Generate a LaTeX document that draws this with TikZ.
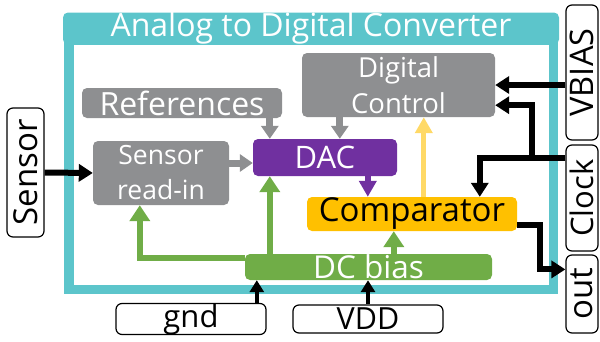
\documentclass[tikz,border=0pt]{standalone}
\usepackage{fontspec}
\setmainfont{Open Sans}
\usetikzlibrary{arrows.meta,calc}
\definecolor{tealc}{RGB}{92,197,203}
\definecolor{grayc}{RGB}{142,143,145}
\definecolor{purplec}{RGB}{112,48,160}
\definecolor{orangec}{RGB}{255,192,0}
\definecolor{greenc}{RGB}{112,173,71}
\definecolor{yellowc}{RGB}{255,217,102}
\newcommand\myfs[2]{\fontsize{#1}{#2}\selectfont}
\begin{document}
\begin{tikzpicture}[x=1pt,y=-1pt,
  blockbox/.style={rounded corners=5pt, inner sep=0pt, align=center, text=white},
  sidebox/.style={draw=black, line width=1.2pt, rounded corners=6pt, fill=white, inner sep=0pt, text=black},
  blk/.style={draw=black, line width=6pt, -{Triangle[length=14pt,width=17pt]}},
  blkthin/.style={draw=black, line width=4.5pt, -{Triangle[length=12pt,width=14pt]}},
  grayarr/.style={draw=grayc, line width=7pt, -{Triangle[length=13pt,width=17pt]}},
  greenarr/.style={draw=greenc, line width=6pt, -{Triangle[length=16pt,width=20pt]}},
  purplearr/.style={draw=purplec, line width=6pt, -{Triangle[length=16pt,width=17pt]}},
  yellowarr/.style={draw=yellowc, line width=5pt, -{Triangle[length=16pt,width=17pt]}}
]
\useasboundingbox (0,0) rectangle (600,341);

% frame
\draw[tealc, line width=9.5pt] (68.75,40) rectangle (553.25,289.25);
\node[fill=tealc, rounded corners=5pt, inner sep=0pt, minimum width=496pt, minimum height=31pt,
      text=white, font=\myfs{32}{34}] (title) at (311,28.5) {\raisebox{-2pt}{Analog to Digital Converter}};

% blocks
\node[blockbox, fill=grayc, minimum width=200pt, minimum height=30pt, font=\myfs{32}{34}] (refs) at (182,103) {References};
\node[blockbox, fill=grayc, minimum width=136pt, minimum height=64pt, font=\myfs{26.5}{35}] (readin) at (161,173) {Sensor\\read-in};
\node[blockbox, fill=purplec, minimum width=144pt, minimum height=37pt, font=\myfs{31}{33}] (dac) at (325,157.5) {DAC};
\node[blockbox, fill=grayc, minimum width=193pt, minimum height=64pt, font=\myfs{27.5}{36}] (dctrl) at (398.5,85) {Digital\\Control};
\node[blockbox, fill=orangec, text=black, minimum width=210pt, minimum height=34pt, font=\myfs{33}{35}] (comp) at (412,214) {Comparator};
\node[blockbox, fill=greenc, minimum width=247pt, minimum height=26pt, font=\myfs{31.5}{33}] (dcbias) at (368.5,267) {DC bias};

% side boxes
\node[sidebox, minimum width=150pt, minimum height=28pt, font=\myfs{31}{33}] (gnd) at (191,319) {gnd};
\node[sidebox, minimum width=150pt, minimum height=28pt, font=\myfs{30.5}{32}] (vdd) at (368,319) {VDD};
\node[sidebox, minimum width=37pt, minimum height=129pt, font=\myfs{33}{35}] (sensor) at (25.5,172.5) {\rotatebox{90}{Sensor}};
\node[sidebox, minimum width=32pt, minimum height=135pt, font=\myfs{32.5}{34}] (vbias) at (582,72.5) {\rotatebox{90}{VBIAS}};
\node[sidebox, minimum width=32pt, minimum height=106pt, font=\myfs{31}{33}] (clock) at (582,198) {\rotatebox{90}{Clock}};
\node[sidebox, minimum width=32pt, minimum height=78pt, font=\myfs{33}{35}] (out) at (582,294) {\rotatebox{90}{out}};

% helper coordinates
\coordinate (a1) at ($(dac.north west)+(17,0)$);
\coordinate (a1b) at ($(dac.south west)+(17,0)$);
\coordinate (a2) at ($(dac.west)+(0,5.5)$);
\coordinate (a3) at ($(dac.north west)+(87,0)$);
\coordinate (a4) at ($(comp.north west)+(61,0)$);
\coordinate (a5) at ($(comp.north west)+(117,0)$);
\coordinate (a6) at ($(dcbias.north west)+(0,4)$);
\coordinate (a7) at ($(readin.south west)+(47,0)$);
\coordinate (a8) at ($(comp.south west)+(87,0)$);
\coordinate (a9) at ($(dcbias.south west)+(12,0)$);
\coordinate (b1) at ($(clock.north west)+(0,14)$);
\coordinate (b2) at ($(dctrl.south east)+(0,-12)$);
\coordinate (b3) at ($(comp.north west)+(173,0)$);
\coordinate (b4) at ($(comp.east)+(0,11)$);
\coordinate (b5) at ($(out.north west)+(0,15)$);

% connectors
\draw[blk] (sensor.east) -- (readin.west);
\draw[grayarr] (refs.south -| a1) -- (a1);
\draw[grayarr] (readin.east |- a2) -- (a2);
\draw[grayarr] (dctrl.south -| a3) -- (a3);
\draw[purplearr] (dac.south -| a4) -- (a4);
\draw[yellowarr] (a5) -- (dctrl.south -| a5);
\draw[greenarr] (a6) -| (a7);
\draw[greenarr] (dcbias.north -| a1b) -- (a1b);
\draw[greenarr] (dcbias.north -| a8) -- (a8);
\draw[blkthin] (gnd.north -| a9) -- (a9);
\draw[blkthin] (vdd.north) -- (vdd.north |- dcbias.south);
\draw[blk] (vbias.west |- dctrl.east) -- (dctrl.east);
\draw[blk] (b1) -- ++(-33,0) |- (b2);
\draw[blk] (b1) -| (b3);
\draw[blk] (b4) -- ++(23,0) |- (b5);
\end{tikzpicture}
\end{document}
